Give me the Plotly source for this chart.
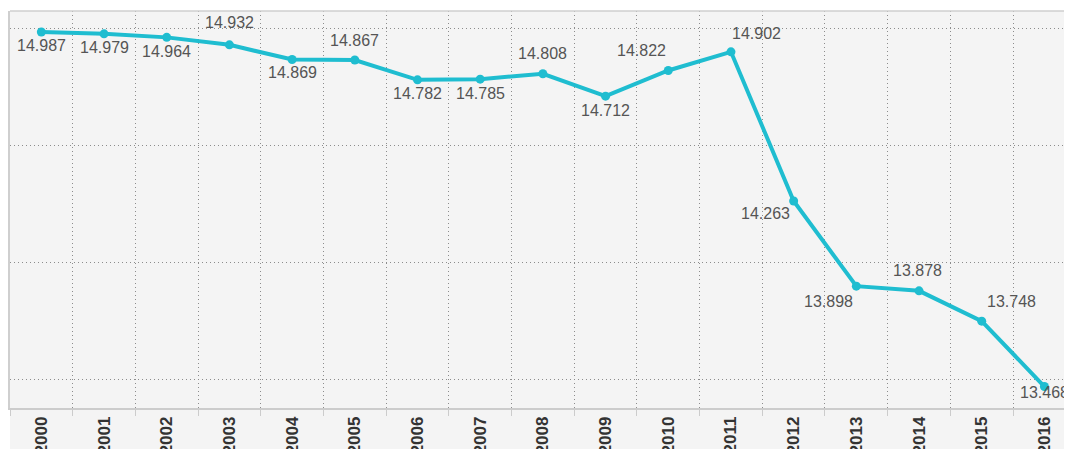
import plotly.graph_objects as go

years = ["2000", "2001", "2002", "2003", "2004", "2005", "2006", "2007", "2008",
         "2009", "2010", "2011", "2012", "2013", "2014", "2015", "2016"]
values = [14.987, 14.979, 14.964, 14.932, 14.869, 14.867, 14.782, 14.785, 14.808,
          14.712, 14.822, 14.902, 14.263, 13.898, 13.878, 13.748, 13.468]
label_text = ["14.987", "14.979", "14.964", "14.932", "14.869", "14.867", "14.782", "14.785",
              "14.808", "14.712", "14.822", "14.902", "14.263", "13.898", "13.878", "13.748", "13.468"]

# label offsets in pixels (dx, dy) relative to the point; positive dy = up
label_offsets = [(0, -13), (0, -14), (0, -14), (0, 22), (0, -13), (0, 20), (0, -14), (0, -14),
                 (0, 20), (0, -14), (-27, 20), (26, 18), (-28, -13), (-28, -15), (-2, 20),
                 (30, 20), (0, -6)]

xs = list(range(len(years)))
line_color = "#1fbdd0"

fig = go.Figure()
fig.add_trace(go.Scatter(
    x=xs, y=values, mode="lines+markers",
    line=dict(color=line_color, width=4),
    marker=dict(color=line_color, size=9),
    hoverinfo="skip", showlegend=False,
))

for x, v, t, (dx, dy) in zip(xs, values, label_text, label_offsets):
    fig.add_annotation(x=x, y=v, text=t, showarrow=False, xshift=dx, yshift=dy,
                       font=dict(family="Arial, Liberation Sans", size=16, color="#555555"))

# white strips outside the grey chart panel
fig.add_shape(type="rect", xref="paper", yref="paper", x0=-0.1, x1=0, y0=-0.2, y1=1.2,
              fillcolor="white", line_width=0, layer="below")
fig.add_shape(type="rect", xref="paper", yref="paper", x0=-0.1, x1=1.1, y0=1, y1=1.2,
              fillcolor="white", line_width=0, layer="below")
# top border
fig.add_shape(type="line", xref="paper", yref="paper", x0=0, x1=1, y0=1, y1=1,
              line=dict(color="#cfcfcf", width=1.5))

fig.update_xaxes(
    range=[-0.5, 16.44], tickmode="array", tickvals=xs, ticktext=years,
    tickangle=-90, ticks="", showgrid=False, zeroline=False, automargin=False,
    tickfont=dict(family="Arial, Liberation Sans", size=17, color="#333333", weight="bold"),
    showline=True, linecolor="#cccccc", linewidth=1.5,
    minor=dict(tickvals=[i + 0.5 for i in range(-1, 17)], showgrid=True, gridcolor="#8c8c8c",
               griddash="1px,3px", gridwidth=1.2, ticks="outside", ticklen=6, tickcolor="#cccccc"),
)
fig.update_yaxes(
    range=[13.376, 15.077], tickvals=[13.5, 14.0, 14.5, 15.0], showticklabels=False,
    showgrid=True, gridcolor="#8c8c8c", griddash="1px,3px", gridwidth=1.2, zeroline=False,
    showline=True, linecolor="#cfcfcf", linewidth=1.5, automargin=False,
)

fig.update_layout(
    width=1064, height=441,
    margin=dict(l=2, r=0, t=3, b=41, autoexpand=False),
    paper_bgcolor="#f4f4f4", plot_bgcolor="#f4f4f4",
)

fig.write_html("out.html")
